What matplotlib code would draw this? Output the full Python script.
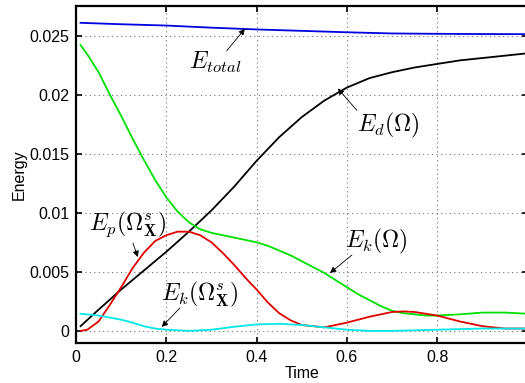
import matplotlib
matplotlib.use("Agg")
import matplotlib.pyplot as plt

plt.rcParams['font.family'] = ['Liberation Sans', 'DejaVu Sans']
plt.rcParams['mathtext.fontset'] = 'cm'

# Energy histories over time
t_total = [0.01, 0.1, 0.2, 0.3, 0.4, 0.5, 0.6, 0.7, 0.8, 0.9, 1.0]
e_total = [0.02608, 0.02596, 0.02585, 0.02567, 0.02552, 0.02540, 0.02528,
           0.02518, 0.02515, 0.02513, 0.02512]

t_d = [0.01, 0.05, 0.1, 0.15, 0.2, 0.25, 0.3, 0.35, 0.4, 0.45, 0.5, 0.55,
       0.6, 0.65, 0.7, 0.75, 0.8, 0.85, 0.9, 0.95, 1.0]
e_d = [0.0004, 0.0018, 0.0035, 0.0051, 0.0067, 0.0084, 0.0102, 0.0122,
       0.0144, 0.0164, 0.0181, 0.0195, 0.0206, 0.0214, 0.0219, 0.0223,
       0.0226, 0.0229, 0.0231, 0.0233, 0.0235]

t_k = [0.01, 0.025, 0.05, 0.075, 0.1, 0.125, 0.15, 0.175, 0.2, 0.225, 0.25,
       0.275, 0.3, 0.325, 0.35, 0.375, 0.4, 0.425, 0.45, 0.475, 0.5, 0.525,
       0.55, 0.575, 0.6, 0.625, 0.65, 0.675, 0.7, 0.725, 0.75, 0.775, 0.8,
       0.85, 0.9, 0.95, 1.0]
e_k = [0.0242, 0.0234, 0.0219, 0.0200, 0.0182, 0.0163, 0.0145, 0.0128,
       0.0113, 0.0101, 0.0092, 0.0086, 0.0083, 0.0081, 0.0079, 0.0077,
       0.0075, 0.0072, 0.0068, 0.0064, 0.0059, 0.0054, 0.0049, 0.0043,
       0.0037, 0.0031, 0.0026, 0.0021, 0.0017, 0.0015, 0.0014, 0.0013,
       0.0013, 0.0014, 0.00155, 0.00155, 0.00145]

t_p = [0.01, 0.025, 0.05, 0.075, 0.1, 0.125, 0.15, 0.175, 0.2, 0.225, 0.25,
       0.275, 0.3, 0.325, 0.35, 0.375, 0.4, 0.425, 0.45, 0.475, 0.5, 0.525,
       0.55, 0.575, 0.6, 0.65, 0.7, 0.725, 0.75, 0.8, 0.85, 0.9, 0.95, 1.0]
e_p = [0.0, 0.0001, 0.0008, 0.0022, 0.0037, 0.0053, 0.0066, 0.0076,
       0.0081, 0.0084, 0.0084, 0.0081, 0.0075, 0.0066, 0.0056, 0.0045,
       0.0035, 0.0024, 0.0015, 0.0009, 0.0005, 0.0004, 0.0003, 0.0005,
       0.0007, 0.0012, 0.0016, 0.00165, 0.0016, 0.0013, 0.0008, 0.0004,
       0.0002, 0.0002]

t_ks = [0.01, 0.05, 0.1, 0.125, 0.15, 0.175, 0.2, 0.25, 0.3, 0.35, 0.4,
        0.45, 0.5, 0.55, 0.6, 0.65, 0.7, 0.8, 0.9, 1.0]
e_ks = [0.00145, 0.0013, 0.00095, 0.0007, 0.0004, 0.0002, 0.0001, 0.0,
        0.0001, 0.00035, 0.00055, 0.0006, 0.0005, 0.0003, 0.0001, 0.0,
        0.0, 0.0001, 0.0002, 0.0002]

x_ticks = [0, 0.2, 0.4, 0.6, 0.8]
x_tick_labels = ['0', '0.2', '0.4', '0.6', '0.8']
y_ticks = [0, 0.005, 0.01, 0.015, 0.02, 0.025]
y_tick_labels = ['0', '0.005', '0.01', '0.015', '0.02', '0.025']

fig = plt.figure(figsize=(5.25, 3.83), dpi=100)
ax = fig.add_axes([0.1448, 0.1052, 0.86, 0.879])

lw = 1.3
ax.plot(t_total, e_total, color='#0000e0', lw=lw, solid_joinstyle='round')
ax.plot(t_d, e_d, color='k', lw=lw, solid_joinstyle='round')
ax.plot(t_k, e_k, color='#00e000', lw=lw, solid_joinstyle='round')
ax.plot(t_p, e_p, color='#e00000', lw=lw, solid_joinstyle='round')
ax.plot(t_ks, e_ks, color='#00e8e8', lw=lw, solid_joinstyle='round')

ax.set_xlim(0, 1)
ax.set_ylim(-0.001, 0.0275)
ax.set_xticks(x_ticks)
ax.set_xticklabels(x_tick_labels)
ax.set_yticks(y_ticks)
ax.set_yticklabels(y_tick_labels)
ax.tick_params(direction='in', length=4, width=1.2, top=True, right=True,
               labelsize=11.5, pad=5)
ax.grid(True, linestyle=(0, (1, 3)), color='0.45', lw=0.8)
for s in ax.spines.values():
    s.set_linewidth(1.6)

ax.set_xlabel('Time', fontsize=11.5, labelpad=1)
ax.set_ylabel('Energy', fontsize=11.5, labelpad=2)

arrow = dict(arrowstyle='-|>', color='k', lw=0.6, mutation_scale=9,
             shrinkA=0, shrinkB=0)
labels = [
    (r'$E_{total}$', (0.308, 0.0227), (0.334, 0.02373), (0.374, 0.02557)),
    (r'$E_d(\Omega)$', (0.691, 0.0174), (0.622, 0.01867), (0.580, 0.02052)),
    (r'$E_p(\Omega^s_{\mathbf{X}})$', (0.115, 0.0090), (0.126, 0.00743), (0.137, 0.00625)),
    (r'$E_k(\Omega^s_{\mathbf{X}})$', (0.275, 0.0031), (0.230, 0.00194), (0.190, 0.00034)),
    (r'$E_k(\Omega)$', (0.664, 0.0076), (0.611, 0.00642), (0.5625, 0.0049)),
]
for txt, pos, tail, head in labels:
    ax.text(pos[0], pos[1], txt, fontsize=17, ha='center', va='center')
    ax.annotate('', xy=head, xytext=tail, arrowprops=arrow)

fig.savefig('out.png', dpi=100)
